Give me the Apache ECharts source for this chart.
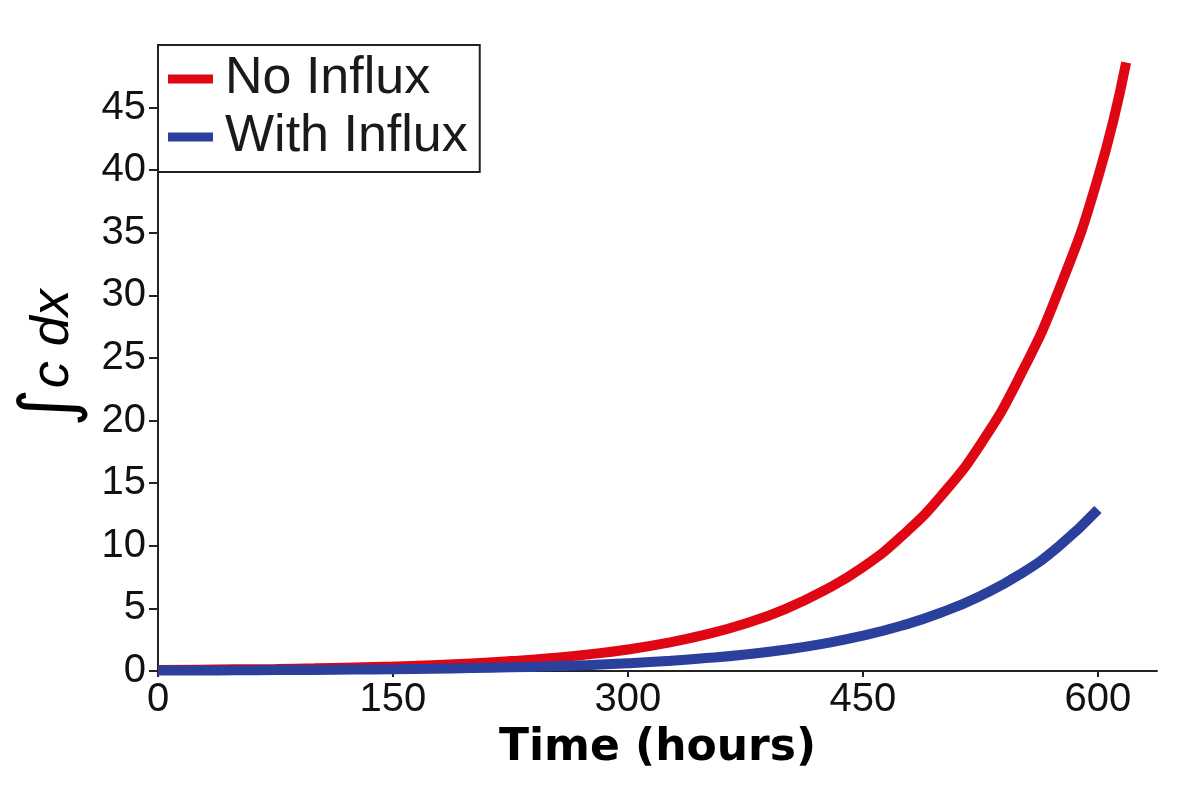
<!DOCTYPE html>
<html>
<head>
<meta charset="utf-8">
<script src="https://cdn.jsdelivr.net/npm/echarts@6/dist/echarts.min.js"></script>
<style>
  html, body { margin: 0; padding: 0; background: #fff; }
  #chart { width: 1177px; height: 788px; }
</style>
</head>
<body>
<div id="chart"></div>
<script>
// values
const hours = [0, 25, 50, 75, 100, 125, 150, 175, 200, 225, 250, 275, 300, 325, 350, 375, 400, 425, 450, 475, 500, 525, 550, 575, 600, 618];
const noInflux = [0.07, 0.10, 0.13, 0.16, 0.21, 0.28, 0.36, 0.46, 0.60, 0.79, 1.02, 1.33, 1.72, 2.24, 2.92, 3.79, 4.93, 6.42, 8.3, 10.8, 14.0, 18.1, 23.5, 30.4, 39.4, 48.6];
const withInflux = [0.03, 0.04, 0.05, 0.07, 0.08, 0.11, 0.14, 0.18, 0.23, 0.29, 0.37, 0.48, 0.62, 0.80, 1.03, 1.32, 1.70, 2.19, 2.82, 3.63, 4.67, 6.0, 7.7, 9.96, 12.9];
const xTicks = [0, 150, 300, 450, 600];
const yTicks = [0, 5, 10, 15, 20, 25, 30, 35, 40, 45];

const chart = echarts.init(document.getElementById('chart'));

const pairs = (xs, ys) => ys.map((v, i) => [xs[i], v]);
const labelFont = "'Liberation Sans', sans-serif";

const option = {
  animation: false,
  backgroundColor: '#fff',
  grid: { left: 158, right: 20, top: 45, bottom: 117, outerBoundsMode: 'none', containLabel: false },
  legend: {
    orient: 'vertical',
    left: 158,
    top: 45,
    padding: [8, 12, 9, 10],
    itemGap: 6,
    itemWidth: 45,
    itemHeight: 9,
    icon: 'rect',
    borderColor: '#222',
    borderWidth: 2,
    backgroundColor: '#fff',
    textStyle: {
      fontSize: 52, lineHeight: 52, color: '#1a1a1a',
      fontFamily: 'Liberation Sans', padding: [0, 0, 0, 7]
    },
    data: ['No Influx', 'With Influx']
  },
  xAxis: {
    type: 'value',
    min: 0,
    max: 637.7,
    name: 'Time (hours)',
    nameLocation: 'middle',
    nameGap: 56,
    nameTextStyle: { fontSize: 44, fontWeight: 'bold', color: '#000', fontFamily: 'DejaVu Sans' },
    axisLine: { lineStyle: { color: '#222', width: 2 } },
    axisTick: { length: 6, customValues: xTicks, lineStyle: { color: '#222', width: 2 } },
    axisLabel: { customValues: xTicks, fontSize: 40, color: '#111', margin: 9, fontFamily: labelFont },
    splitLine: { show: false }
  },
  yAxis: {
    type: 'value',
    min: 0,
    max: 50,
    name: '{i|\u222B}{t|c dx}',
    nameLocation: 'middle',
    nameGap: 68,
    nameRotate: 90,
    nameTextStyle: {
      color: '#000',
      rich: {
        i: { fontSize: 74, fontFamily: 'DejaVu Sans', color: '#000' },
        t: { fontSize: 54, fontStyle: 'italic', fontFamily: 'Liberation Sans', color: '#000' }
      }
    },
    axisLine: { lineStyle: { color: '#222', width: 2 } },
    axisTick: { length: 9, customValues: yTicks, lineStyle: { color: '#222', width: 2 } },
    axisLabel: { customValues: yTicks, fontSize: 40, color: '#111', margin: 12, fontFamily: labelFont },
    splitLine: { show: false }
  },
  series: [
    {
      name: 'No Influx',
      type: 'line',
      smooth: true,
      showSymbol: false,
      color: '#e00714',
      lineStyle: { width: 10, color: '#e00714' },
      data: pairs(hours, noInflux)
    },
    {
      name: 'With Influx',
      type: 'line',
      smooth: true,
      showSymbol: false,
      color: '#2b3f9c',
      lineStyle: { width: 10, color: '#2b3f9c' },
      data: pairs(hours, withInflux)
    }
  ]
};

chart.setOption(option);
</script>
</body>
</html>
